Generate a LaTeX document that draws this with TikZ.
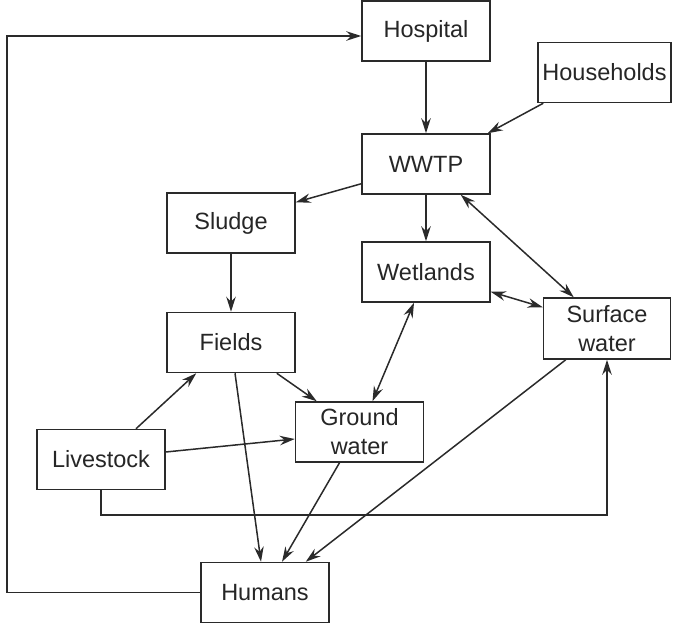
\documentclass[tikz,border=0pt]{standalone}
\usepackage{fontspec}
\setmainfont{Liberation Sans}
\usetikzlibrary{arrows.meta,calc}
\definecolor{linec}{HTML}{2A2A2A}
\begin{document}
\begin{tikzpicture}[x=1pt,y=-1pt,
  tip/.style={Stealth[length=15pt,width=9.5pt,inset=5pt]},
  box/.style={draw=linec, line width=1.5pt, fill=white, minimum width=128pt, minimum height=60pt,
    inner sep=0pt, align=center, font=\fontsize{23.5}{29}\selectfont, text=black!85},
  conn/.style={draw=linec, line width=1.5pt, -{Stealth[length=15pt,width=9.5pt,inset=5pt]}},
  bi/.style={draw=linec, line width=1.5pt, {Stealth[length=15pt,width=9.5pt,inset=5pt]}-{Stealth[length=15pt,width=9.5pt,inset=5pt]}}]
\useasboundingbox (0,0) rectangle (674,631);
\node[box] (hosp) at (426,31) {Hospital};
\node[box, minimum width=133pt] (house) at (604.5,72.5) {Households};
\node[box] (wwtp) at (426,164) {WWTP};
\node[box] (sludge) at (231,223) {Sludge};
\node[box] (wet) at (426,272) {Wetlands};
\node[box, minimum width=127pt, minimum height=61pt] (surf) at (607,328.5) {Surface\\water};
\node[box] (fields) at (231,342.5) {Fields};
\node[box] (ground) at (359.5,432) {Ground\\water};
\node[box] (live) at (101,459.5) {Livestock};
\node[box] (hum) at (265,592.5) {Humans};
\coordinate (lb) at (101,515);
\coordinate (lh) at (7,594);
\draw[conn] (hosp.south) -- (wwtp.north);
\draw[conn] ($(house.south west)+(6,0)$) -- ($(wwtp.north east)+(-3,0)$);
\draw[conn] ($(wwtp.south west)+(0,-11)$) -- ($(sludge.north east)+(0,10)$);
\draw[conn] (wwtp.south) -- (wet.north);
\draw[bi] ($(wwtp.south east)+(-30,0)$) -- ($(surf.north west)+(31,0)$);
\draw[bi] ($(wet.south east)+(0,-11)$) -- ($(surf.north west)+(0,10)$);
\draw[bi] ($(wet.south)+(-12,0)$) -- ($(ground.north)+(13,0)$);
\draw[conn] (sludge.south) -- (fields.north);
\draw[conn] ($(fields.south east)+(-19,0)$) -- ($(ground.north west)+(22,0)$);
\draw[conn] ($(live.north)+(35,0)$) -- ($(fields.south west)+(30,0)$);
\draw[conn] ($(fields.south)+(4,0)$) -- ($(hum.north)+(-4,0)$);
\draw[conn] ($(live.east)+(0,-7.5)$) -- ($(ground.west)+(0,7)$);
\draw[conn] ($(ground.south)+(-20,0)$) -- ($(hum.north)+(17,0)$);
\draw[conn] ($(surf.south west)+(23,0)$) -- ($(hum.north east)+(-24,0)$);
\draw[conn] (live.south) -- (live.south |- lb) -| (surf.south);
\draw[conn] (hum.west) -- (lh |- hum.west) |- ($(hosp.west)+(0,5)$);
\end{tikzpicture}
\end{document}
